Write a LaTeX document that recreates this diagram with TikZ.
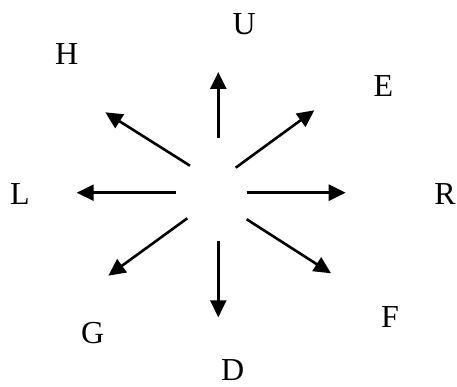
\documentclass[tikz,border=0pt]{standalone}
\usepackage{fontspec}
\setmainfont{Liberation Serif}
\usetikzlibrary{arrows.meta}

\tikzset{
  dirlabel/.style={inner sep=0pt,font=\fontsize{32}{38}\selectfont},
  dirarrow/.style={line width=2.6pt,-{Triangle[length=17pt,width=16pt]}}
}

\begin{document}
\begin{tikzpicture}[x=1pt,y=-1pt]
    \useasboundingbox (0,0) rectangle (457,387);
    % ---- direction letters
    \node[dirlabel] (U) at (244.3,24.5) {U};
    \node[dirlabel] (E) at (383.3,86) {E};
    \node[dirlabel] (R) at (445,194) {R};
    \node[dirlabel] (F) at (390,316.7) {F};
    \node[dirlabel] (D) at (232.7,370.5) {D};
    \node[dirlabel] (G) at (92.7,332.7) {G};
    \node[dirlabel] (L) at (20,194) {L};
    \node[dirlabel] (H) at (66.7,54.3) {H};
    % ---- arrow ends (start near centre, tip outward)
    \coordinate (u0) at (218.3,138);   \coordinate (u1) at (218.3,72);
    \coordinate (e0) at (235.7,167.7); \coordinate (e1) at (314.3,110.3);
    \coordinate (r0) at (246.7,192.7); \coordinate (r1) at (345.7,192.7);
    \coordinate (f0) at (246.7,219.3); \coordinate (f1) at (331,273.3);
    \coordinate (d0) at (218.3,240.7); \coordinate (d1) at (218.3,317.3);
    \coordinate (g0) at (187.3,218.3); \coordinate (g1) at (108.3,275.7);
    \coordinate (l0) at (175.7,192.7); \coordinate (l1) at (76.7,192.7);
    \coordinate (h0) at (190,165.7);   \coordinate (h1) at (105.3,112.3);
    \foreach \a in {u,e,r,f,d,g,l,h}{
      \draw[dirarrow] (\a0) -- (\a1);}
\end{tikzpicture}
\end{document}
